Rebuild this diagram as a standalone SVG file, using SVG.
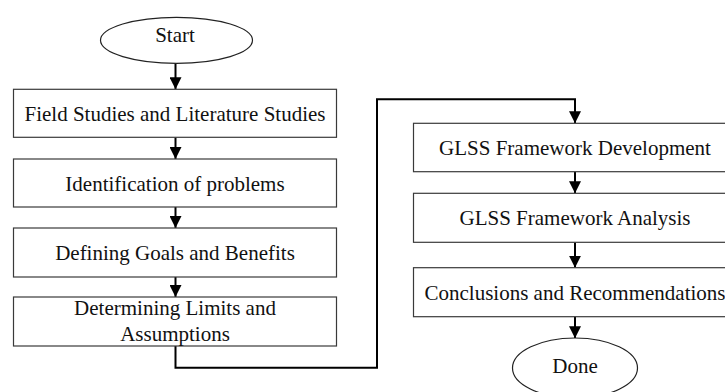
<svg xmlns="http://www.w3.org/2000/svg" width="725" height="392" viewBox="0 0 725 392">
<style>
.box{fill:#fff;stroke:#3a3a3a;stroke-width:1.2}
.el{fill:#fff;stroke:#222;stroke-width:1.2}
.t{font-family:"Liberation Serif","Times New Roman",serif;font-size:21px;fill:#111;text-anchor:middle}
.c{fill:none;stroke:#000;stroke-width:2}
</style>
<defs>
<marker id="ah" markerUnits="userSpaceOnUse" markerWidth="12" markerHeight="12" refX="12" refY="6" orient="auto">
<path d="M0,0 L12,6 L0,12 z" fill="#000"/>
</marker>
</defs>
<rect width="725" height="392" fill="#fff"/>
<g id="connectors">
<line class="c" x1="175.5" y1="63.5" x2="175.5" y2="89.3" marker-end="url(#ah)"/>
<line class="c" x1="175.5" y1="137.3" x2="175.5" y2="159" marker-end="url(#ah)"/>
<line class="c" x1="175.5" y1="207" x2="175.5" y2="228" marker-end="url(#ah)"/>
<line class="c" x1="175.5" y1="277" x2="175.5" y2="297" marker-end="url(#ah)"/>
<path class="c" d="M175.5,346 V367.7 H377 V99.3 H575 V123.3" marker-end="url(#ah)"/>
<line class="c" x1="575" y1="171.7" x2="575" y2="193.3" marker-end="url(#ah)"/>
<line class="c" x1="575" y1="242.3" x2="575" y2="267.7" marker-end="url(#ah)"/>
<line class="c" x1="575" y1="316.7" x2="575" y2="338.3" marker-end="url(#ah)"/>
</g>
<g id="start">
<ellipse class="el" cx="176.5" cy="40.3" rx="76" ry="23"/>
<text class="t" x="175" y="42.3">Start</text>
</g>
<g id="field">
<rect class="box" x="13.5" y="89.3" width="323" height="48"/>
<text class="t" x="175" y="120.7">Field Studies and Literature Studies</text>
</g>
<g id="identification">
<rect class="box" x="13.5" y="159" width="323" height="48"/>
<text class="t" x="175" y="190.5">Identification of problems</text>
</g>
<g id="goals">
<rect class="box" x="13.5" y="228" width="323" height="49"/>
<text class="t" x="175" y="259.5">Defining Goals and Benefits</text>
</g>
<g id="limits">
<rect class="box" x="13.5" y="297" width="323" height="49"/>
<text class="t" x="175" y="315">Determining Limits and</text>
<text class="t" x="175" y="340.5">Assumptions</text>
</g>
<g id="development">
<rect class="box" x="413.5" y="123.3" width="323" height="48.4"/>
<text class="t" x="575" y="155">GLSS Framework Development</text>
</g>
<g id="analysis">
<rect class="box" x="413.5" y="193.3" width="323" height="49"/>
<text class="t" x="575" y="225.3">GLSS Framework Analysis</text>
</g>
<g id="conclusions">
<rect class="box" x="413.5" y="267.7" width="323" height="49"/>
<text class="t" x="575" y="299.7">Conclusions and Recommendations</text>
</g>
<g id="done">
<ellipse class="el" cx="575" cy="368" rx="62.5" ry="30"/>
<text class="t" x="575" y="373.3">Done</text>
</g>
</svg>
